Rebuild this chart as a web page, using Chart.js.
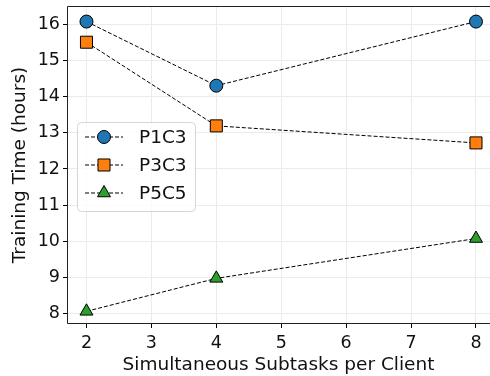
<!DOCTYPE html>
<html>
<head>
<meta charset="utf-8">
<script src="https://cdn.jsdelivr.net/npm/chart.js@4/dist/chart.umd.min.js"></script>
<style>
  html, body { margin: 0; padding: 0; background: #fff; }
  #wrap { width: 490px; height: 376px; }
</style>
</head>
<body>
<div id="wrap"><canvas id="chart" width="490" height="376"></canvas></div>
<script>
// values
const subtasks = [2, 4, 8];
const p1c3 = [16.07, 14.3, 16.07];
const p3c3 = [15.5, 13.19, 12.72];
const p5c5 = [8.07, 8.98, 10.08];
const xTicks = [2, 3, 4, 5, 6, 7, 8];
const yTicks = [8, 9, 10, 11, 12, 13, 14, 15, 16];

const FONT = "'DejaVu Sans', sans-serif";

const toPoints = (ys) => subtasks.map((x, i) => ({ x: x, y: ys[i] }));

// spines (right one is cut off in the original) + legend inside the plot
const frame = {
    id: 'frame',
    afterDraw(chart) {
        const ctx = chart.ctx;
        const a = chart.chartArea;
        ctx.save();
        ctx.strokeStyle = '#222';
        ctx.lineWidth = 1;
        ctx.beginPath();
        ctx.moveTo(a.right, a.top + 0.5);
        ctx.lineTo(a.left + 0.5, a.top + 0.5);
        ctx.lineTo(a.left + 0.5, a.bottom - 0.5);
        ctx.lineTo(a.right, a.bottom - 0.5);
        ctx.stroke();

        // legend
        const bx = 77, by = 122, bw = 118, bh = 89;
        ctx.fillStyle = 'rgba(255,255,255,0.8)';
        ctx.strokeStyle = '#d6d6d6';
        ctx.beginPath();
        ctx.roundRect(bx + 0.5, by + 0.5, bw, bh, 4);
        ctx.fill();
        ctx.stroke();

        chart.data.datasets.forEach((ds, i) => {
            const y = 137 + i * 28;
            ctx.strokeStyle = '#000';
            ctx.lineWidth = 1;
            ctx.setLineDash([4, 2]);
            ctx.beginPath();
            ctx.moveTo(85, y);
            ctx.lineTo(123, y);
            ctx.stroke();
            ctx.setLineDash([]);
            ctx.fillStyle = ds.pointBackgroundColor;
            ctx.strokeStyle = '#000';
            Chart.helpers.drawPoint(ctx, {
                pointStyle: ds.pointStyle,
                radius: ds.pointRadius,
                borderWidth: 1
            }, 104, y);
            ctx.fillStyle = '#111';
            ctx.font = '18.5px ' + FONT;
            ctx.textBaseline = 'middle';
            ctx.fillText(ds.label, 139, y + 1);
        });
        ctx.restore();
    }
};

const makeSet = (label, data, color, style, r) => ({
    label: label,
    data: toPoints(data),
    borderColor: '#000',
    borderWidth: 1,
    borderDash: [4, 2],
    pointStyle: style,
    pointRadius: r,
    pointHoverRadius: r,
    pointBackgroundColor: color,
    pointBorderColor: '#000',
    pointBorderWidth: 1,
    fill: false,
    tension: 0
});

new Chart(document.getElementById('chart'), {
    type: 'line',
    data: {
        datasets: [
            makeSet('P1C3', p1c3, '#1f77b4', 'circle', 6.5),
            makeSet('P3C3', p3c3, '#ff7f0e', 'rect', 8.5),
            makeSet('P5C5', p5c5, '#2ca02c', 'triangle', 7.5)
        ]
    },
    options: {
        responsive: false,
        animation: false,
        layout: { autoPadding: false, padding: { top: 6, right: 0, left: 0, bottom: 0 } },
        plugins: {
            legend: { display: false },
            tooltip: { enabled: false }
        },
        scales: {
            x: {
                type: 'linear',
                min: 1.7,
                max: 8.216,
                afterBuildTicks: (s) => { s.ticks = xTicks.map(v => ({ value: v })); },
                afterFit: (s) => { s.height = 52; s.paddingLeft = 0; s.paddingRight = 0; },
                grid: { color: '#ebebeb', tickColor: '#000', tickLength: 4, drawTicks: true },
                border: { display: false },
                ticks: { color: '#111', font: { family: FONT, size: 17.5 }, padding: 5, maxRotation: 0 },
                title: { display: true, text: 'Simultaneous Subtasks per Client', color: '#111',
                         font: { family: FONT, size: 18.5 }, padding: { top: 0, bottom: 0 } }
            },
            y: {
                type: 'linear',
                min: 7.72,
                max: 16.5,
                afterBuildTicks: (s) => { s.ticks = yTicks.map(v => ({ value: v })); },
                afterFit: (s) => { s.width = 67; s.paddingTop = 0; s.paddingBottom = 0; },
                grid: { color: '#ebebeb', tickColor: '#000', tickLength: 4, drawTicks: true },
                border: { display: false },
                ticks: { color: '#111', font: { family: FONT, size: 17.5 }, padding: 3 },
                title: { display: true, text: 'Training Time (hours)', color: '#111',
                         font: { family: FONT, size: 18.5 }, padding: { top: 9, bottom: 0 } }
            }
        }
    },
    plugins: [frame]
});
</script>
</body>
</html>
